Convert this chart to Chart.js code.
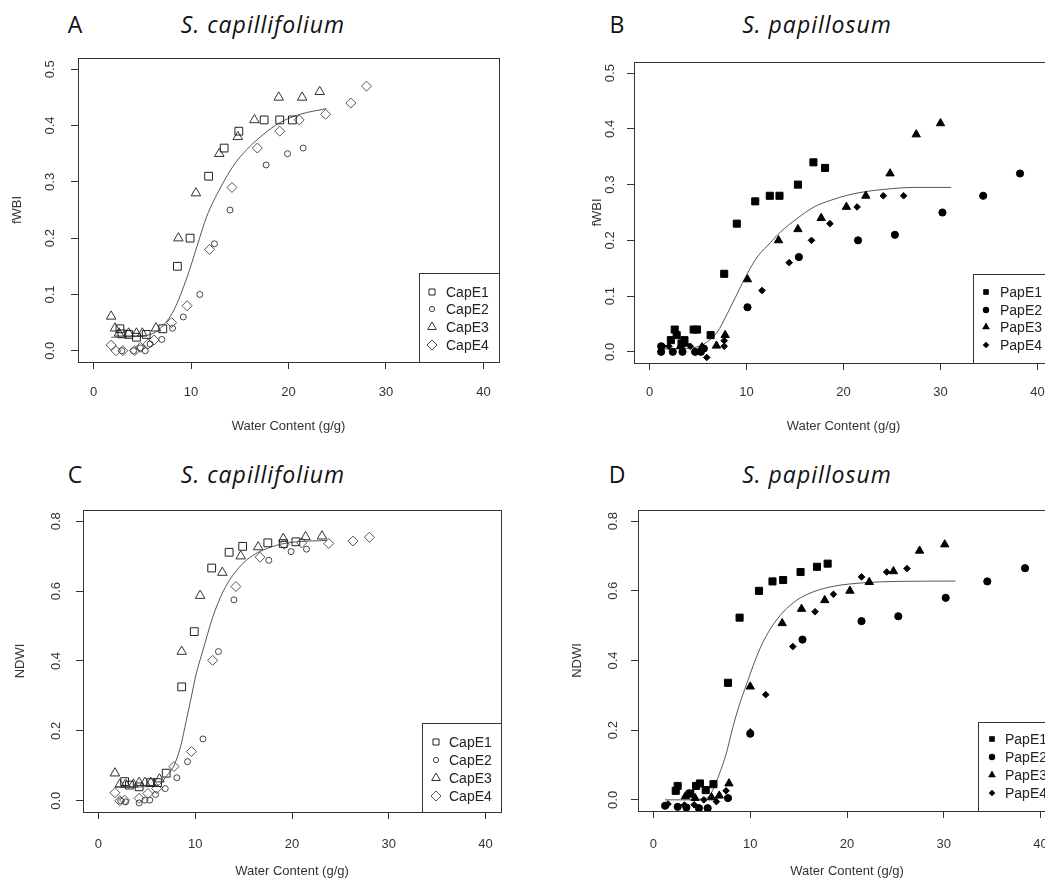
<!DOCTYPE html>
<html>
<head>
<meta charset="utf-8">
<script src="https://cdn.jsdelivr.net/npm/chart.js@4"></script>
<style>
  html, body { margin: 0; padding: 0; width: 1045px; height: 882px; overflow: hidden; background: #fff; }
  canvas { position: absolute; }
  .lab { position: absolute; font-family: "Open Sans", Lato, sans-serif; font-size: 23px; color: #111;
         line-height: 1; white-space: nowrap; transform: translate(-50%, -50%); }
  .sp { font-style: italic; letter-spacing: 1px; }
</style>
</head>
<body>
<div class="lab" style="left:75px;top:24px">A</div>
<div class="lab sp" style="left:263px;top:24px">S. capillifolium</div>
<div class="lab" style="left:617px;top:24px">B</div>
<div class="lab sp" style="left:817px;top:24px">S. papillosum</div>
<div class="lab" style="left:75px;top:474px">C</div>
<div class="lab sp" style="left:263px;top:474px">S. capillifolium</div>
<div class="lab" style="left:617px;top:474px">D</div>
<div class="lab sp" style="left:817px;top:474px">S. papillosum</div>

<canvas id="chartA"></canvas>
<canvas id="chartB"></canvas>
<canvas id="chartC"></canvas>
<canvas id="chartD"></canvas>

<script>
// tick labels
const xTicks = [0, 10, 20, 30, 40];
const fwbiTicks = [0, 0.1, 0.2, 0.3, 0.4, 0.5];
const ndwiTicks = [0, 0.2, 0.4, 0.6, 0.8];
const capNames = ["CapE1", "CapE2", "CapE3", "CapE4"];
const papNames = ["PapE1", "PapE2", "PapE3", "PapE4"];

// A: S. capillifolium, fWBI vs water content [x, y]
const capE1_fwbi = [[2.7,0.039],[2.9,0.03],[3.6,0.029],[4.4,0.024],[5.4,0.029],[7.1,0.039],[8.6,0.15],[9.9,0.20],[11.8,0.31],[13.4,0.36],[14.9,0.39],[17.5,0.41],[19.1,0.41],[20.4,0.41]];
const capE2_fwbi = [[2.9,0],[4.1,0],[4.8,0.005],[5.3,0],[5.8,0.012],[7.0,0.02],[8.1,0.04],[9.2,0.06],[10.9,0.10],[12.4,0.19],[14.0,0.25],[17.7,0.33],[19.9,0.35],[21.5,0.36]];
const capE3_fwbi = [[1.8,0.061],[2.2,0.04],[2.6,0.031],[3.6,0.031],[4.4,0.031],[5.0,0.031],[6.4,0.04],[8.7,0.20],[10.5,0.28],[12.9,0.35],[14.8,0.38],[16.5,0.41],[19.0,0.45],[21.4,0.45],[23.2,0.46]];
const capE4_fwbi = [[1.8,0.01],[2.3,0],[3.0,0],[4.2,0],[4.8,0.006],[5.6,0.012],[6.2,0.019],[8.0,0.05],[9.6,0.08],[11.9,0.18],[14.2,0.29],[16.8,0.36],[19.1,0.39],[21.1,0.41],[23.8,0.42],[26.4,0.44],[28.0,0.47]];
const capFit_fwbi = [[1.8,0.024],[4.0,0.025],[6.0,0.03],[6.8,0.039],[8.2,0.071],[9.6,0.131],[10.6,0.185],[11.6,0.238],[13.0,0.289],[14.4,0.33],[15.7,0.357],[17.4,0.384],[19.1,0.405],[21.2,0.42],[23.9,0.43]];

// B: S. papillosum, fWBI
const papE1_fwbi = [[2.2,0.021],[2.6,0.04],[2.8,0.03],[3.3,0.015],[3.6,0.021],[4.55,0.04],[4.9,0.04],[6.3,0.03],[7.7,0.14],[9.0,0.23],[10.9,0.27],[12.4,0.28],[13.4,0.28],[15.3,0.30],[16.9,0.34],[18.1,0.33]];
const papE2_fwbi = [[1.2,0.01],[1.2,0],[2.4,0],[3.4,0],[4.7,0],[5.3,0],[5.6,0.006],[10.1,0.08],[15.4,0.17],[21.5,0.20],[25.3,0.21],[30.2,0.25],[34.4,0.28],[38.2,0.32]];
const papE3_fwbi = [[3.2,0.01],[3.7,0.015],[5.4,0.008],[6.9,0.011],[7.8,0.03],[10.1,0.13],[13.3,0.20],[15.3,0.22],[17.7,0.24],[20.3,0.26],[22.3,0.28],[24.8,0.32],[27.5,0.39],[30.0,0.41]];
const papE4_fwbi = [[1.4,0.01],[2.0,0.01],[4.2,0.01],[5.5,0.008],[5.9,-0.01],[7.7,0.02],[7.7,0.01],[11.6,0.11],[14.4,0.16],[16.7,0.20],[18.6,0.23],[21.4,0.26],[24.1,0.28],[26.2,0.28]];
const papFit_fwbi = [[1.2,0.005],[3.5,0.006],[5.24,0.011],[6.97,0.035],[8.0,0.068],[9.03,0.104],[10.07,0.14],[11.1,0.17],[12.14,0.19],[13.5,0.215],[15.2,0.239],[16.97,0.26],[18.7,0.272],[20.4,0.281],[22.1,0.287],[23.9,0.291],[27.3,0.295],[31.1,0.295]];

// C: S. capillifolium, NDWI
const capE1_ndwi = [[2.7,0.055],[3.2,0.045],[4.2,0.04],[5.4,0.052],[6.1,0.052],[7.0,0.079],[8.6,0.326],[9.9,0.484],[11.7,0.666],[13.5,0.711],[14.9,0.728],[17.5,0.738],[19.1,0.736],[20.4,0.741]];
const capE2_ndwi = [[2.3,0],[2.8,-0.003],[4.2,-0.006],[4.8,0.002],[5.3,0.002],[5.9,0.018],[6.9,0.035],[8.1,0.066],[9.2,0.112],[10.8,0.177],[12.4,0.427],[14.0,0.575],[17.6,0.688],[19.9,0.713],[21.5,0.72]];
const capE3_ndwi = [[1.7,0.079],[2.2,0.047],[2.8,0.047],[3.6,0.047],[4.2,0.052],[4.8,0.052],[5.4,0.052],[6.3,0.062],[8.6,0.427],[10.5,0.587],[12.8,0.653],[14.7,0.70],[16.5,0.726],[19.1,0.75],[21.4,0.755],[23.1,0.757]];
const capE4_ndwi = [[1.7,0.023],[2.2,0],[2.7,0.002],[4.2,0.007],[5.1,0.021],[6.0,0.035],[7.8,0.098],[9.6,0.141],[11.8,0.402],[14.2,0.613],[16.7,0.697],[19.2,0.734],[21.0,0.738],[23.8,0.736],[26.3,0.743],[28.0,0.754]];
const capFit_ndwi = [[1.7,0.04],[4.0,0.04],[6.2,0.045],[7.0,0.07],[7.84,0.103],[8.53,0.16],[9.05,0.227],[9.57,0.294],[10.09,0.362],[10.78,0.429],[11.8,0.525],[12.85,0.597],[13.88,0.645],[15.27,0.688],[16.6,0.712],[18.4,0.731],[20.1,0.74],[23.6,0.745]];

// D: S. papillosum, NDWI
const papE1_ndwi = [[2.3,0.026],[2.5,0.04],[3.8,0.018],[4.4,0.04],[4.8,0.047],[5.4,0.028],[6.2,0.045],[7.7,0.336],[8.9,0.523],[10.9,0.60],[12.3,0.627],[13.4,0.631],[15.2,0.654],[16.9,0.669],[18.0,0.678]];
const papE2_ndwi = [[1.2,-0.017],[2.5,-0.02],[3.4,-0.022],[4.7,-0.024],[5.6,-0.024],[7.7,0.005],[10.0,0.19],[15.4,0.46],[21.5,0.513],[25.3,0.527],[30.2,0.58],[34.5,0.627],[38.4,0.665]];
const papE3_ndwi = [[3.3,0.01],[3.7,0.016],[4.3,0.005],[6.0,0.007],[6.8,0.012],[7.8,0.047],[10.0,0.325],[13.3,0.507],[15.3,0.548],[17.7,0.573],[20.3,0.60],[22.3,0.625],[24.8,0.656],[27.5,0.715],[30.1,0.733]];
const papE4_ndwi = [[1.5,-0.012],[3.2,-0.015],[4.2,-0.014],[5.2,0],[6.5,-0.005],[7.5,0.026],[10.0,0.195],[11.6,0.302],[14.4,0.44],[16.7,0.54],[18.6,0.59],[21.5,0.64],[24.1,0.654],[26.2,0.664]];
const papFit_ndwi = [[1.2,0.0],[3.5,0.0],[5.5,0.005],[6.1,0.026],[6.8,0.074],[7.5,0.131],[8.2,0.208],[8.9,0.275],[9.6,0.33],[10.3,0.385],[11.1,0.44],[12.2,0.496],[13.4,0.539],[14.8,0.573],[16.5,0.597],[18.6,0.613],[21.7,0.623],[25.1,0.627],[31.2,0.628]];

const TXT = '#333';
const FONT = '"Liberation Sans", Arial, sans-serif';
const toXY = arr => arr.map(([x, y]) => ({ x, y }));

// open symbols (R pch 0,1,2,5) and filled symbols (pch 15,16,17,18)
const openStyles = [
  { pointStyle: 'rect', pointRadius: 5.5, color: '#222', legendR: 4.3 },
  { pointStyle: 'circle', pointRadius: 3, color: '#444', legendR: 2.6 },
  { pointStyle: 'triangle', pointRadius: 5.5, color: '#333', legendR: 5 },
  { pointStyle: 'rectRot', pointRadius: 5, color: '#555', legendR: 5 }
];
const filledStyles = [
  { pointStyle: 'rect', pointRadius: 5, color: '#000', legendR: 4 },
  { pointStyle: 'circle', pointRadius: 3.6, color: '#000', legendR: 3.2 },
  { pointStyle: 'triangle', pointRadius: 4.8, color: '#000', legendR: 4.5 },
  { pointStyle: 'rectRot', pointRadius: 3.3, color: '#000', legendR: 3.3 }
];

function buildSets(names, series, styles, filled, fit) {
  const sets = series.map((s, i) => ({
    label: names[i],
    data: toXY(s),
    pointStyle: styles[i].pointStyle,
    pointRadius: styles[i].pointRadius,
    pointHoverRadius: styles[i].pointRadius,
    borderColor: styles[i].color,
    backgroundColor: filled ? styles[i].color : 'rgba(0,0,0,0)',
    borderWidth: 1,
    legendR: styles[i].legendR,
    filled: filled
  }));
  sets.push({
    label: 'fit',
    data: toXY(fit),
    showLine: true,
    pointRadius: 0,
    borderColor: '#555',
    borderWidth: 1,
    cubicInterpolationMode: 'monotone',
    isFit: true
  });
  return sets;
}

function drawSym(ctx, style, x, y, r, filled) {
  ctx.beginPath();
  if (style === 'rect') ctx.rect(x - r * 0.7, y - r * 0.7, r * 1.4, r * 1.4);
  else if (style === 'circle') ctx.arc(x, y, r, 0, Math.PI * 2);
  else if (style === 'triangle') {
    ctx.moveTo(x, y - r); ctx.lineTo(x + r * 0.866, y + r * 0.5); ctx.lineTo(x - r * 0.866, y + r * 0.5); ctx.closePath();
  } else {
    ctx.moveTo(x, y - r); ctx.lineTo(x + r, y); ctx.lineTo(x, y + r); ctx.lineTo(x - r, y); ctx.closePath();
  }
  if (filled) ctx.fill(); else ctx.stroke();
}

// box, rotated y tick labels and legend, R style
const rPanel = {
  id: 'rPanel',
  afterDraw(chart, args, o) {
    const { ctx, chartArea: a } = chart;
    ctx.save();
    ctx.strokeStyle = '#333';
    ctx.lineWidth = 1;
    ctx.strokeRect(Math.round(a.left) + 0.5, Math.round(a.top) + 0.5, Math.round(a.right - a.left), Math.round(a.bottom - a.top));

    const ys = chart.scales.y;
    ctx.fillStyle = TXT;
    ctx.font = '13px ' + FONT;
    ctx.textAlign = 'center';
    ctx.textBaseline = 'middle';
    ys.ticks.forEach(t => {
      ctx.save();
      ctx.translate(a.left - o.yLabelOffset, ys.getPixelForValue(t.value));
      ctx.rotate(-Math.PI / 2);
      ctx.fillText(t.value.toFixed(1), 0, 0);
      ctx.restore();
    });

    // legend
    const L = o.legend;
    const lx = L.left - o.origin.x, ly = L.top - o.origin.y;
    ctx.fillStyle = '#fff';
    ctx.fillRect(lx, ly, a.right - lx, a.bottom - ly);
    ctx.strokeStyle = '#333';
    ctx.strokeRect(Math.round(lx) + 0.5, Math.round(ly) + 0.5, Math.round(a.right - lx), Math.round(a.bottom - ly));
    ctx.font = '14px ' + FONT;
    ctx.textAlign = 'left';
    chart.data.datasets.filter(d => !d.isFit).forEach((d, i) => {
      const yy = L.rows[i] - o.origin.y;
      ctx.fillStyle = d.borderColor;
      ctx.strokeStyle = d.borderColor;
      drawSym(ctx, d.pointStyle, L.symX - o.origin.x, yy, d.legendR, d.filled);
      ctx.fillStyle = '#222';
      ctx.fillText(d.label, L.textX - o.origin.x, yy + 1);
    });
    ctx.restore();
  }
};

function panel(id, pos, box, datasets, yRange, yTicks, yTitle, opt) {
  const cv = document.getElementById(id);
  cv.style.left = pos.x + 'px';
  cv.style.top = pos.y + 'px';
  cv.width = pos.w;
  cv.height = pos.h;
  const tickFont = { family: FONT, size: 13 };
  return new Chart(cv, {
    type: 'scatter',
    data: { datasets },
    options: {
      responsive: false,
      animation: false,
      events: [],
      layout: { padding: { top: box.top - pos.y, right: pos.x + pos.w - box.right, left: 0, bottom: 0 } },
      plugins: {
        legend: { display: false },
        tooltip: { enabled: false },
        rPanel: { origin: pos, yLabelOffset: opt.yLabelOffset, legend: opt.legend }
      },
      scales: {
        x: {
          type: 'linear', min: -1.6, max: 41.6,
          afterFit: s => { s.height = pos.y + pos.h - box.bottom; },
          afterBuildTicks: s => { s.ticks = xTicks.map(v => ({ value: v })); },
          grid: { drawOnChartArea: false, drawTicks: true, tickLength: 7, color: '#333' },
          border: { display: false },
          ticks: { color: TXT, font: tickFont, padding: opt.xPad, maxRotation: 0, autoSkip: false },
          title: { display: true, text: 'Water Content (g/g)', color: TXT, font: tickFont, padding: { top: 0, bottom: opt.xTitlePad } }
        },
        y: {
          type: 'linear', min: yRange[0], max: yRange[1],
          afterFit: s => { s.width = box.left - pos.x; },
          afterBuildTicks: s => { s.ticks = yTicks.map(v => ({ value: v })); },
          grid: { drawOnChartArea: false, drawTicks: true, tickLength: 7, color: '#333' },
          border: { display: false },
          ticks: { display: false },
          title: { display: true, text: yTitle, color: TXT, font: tickFont, padding: { top: opt.yTitlePad, bottom: 0 } }
        }
      }
    },
    plugins: [rPanel]
  });
}

panel('chartA', { x: 0, y: 40, w: 540, h: 410 }, { left: 78, top: 58, right: 499, bottom: 362 },
  buildSets(capNames, [capE1_fwbi, capE2_fwbi, capE3_fwbi, capE4_fwbi], openStyles, false, capFit_fwbi),
  [-0.02, 0.52], fwbiTicks, 'fWBI',
  { yLabelOffset: 28, xPad: 16, xTitlePad: 16, yTitlePad: 10,
    legend: { left: 419, top: 273, symX: 432, textX: 446, rows: [292, 309, 327, 345] } });

panel('chartB', { x: 560, y: 40, w: 520, h: 410 }, { left: 634, top: 62, right: 1053, bottom: 363 },
  buildSets(papNames, [papE1_fwbi, papE2_fwbi, papE3_fwbi, papE4_fwbi], filledStyles, true, papFit_fwbi),
  [-0.02, 0.52], fwbiTicks, 'fWBI',
  { yLabelOffset: 24, xPad: 15, xTitlePad: 16, yTitlePad: 30,
    legend: { left: 973, top: 274, symX: 986, textX: 1000, rows: [292, 310, 327, 345] } });

panel('chartC', { x: 0, y: 490, w: 540, h: 392 }, { left: 83, top: 510, right: 501, bottom: 812 },
  buildSets(capNames, [capE1_ndwi, capE2_ndwi, capE3_ndwi, capE4_ndwi], openStyles, false, capFit_ndwi),
  [-0.032, 0.832], ndwiTicks, 'NDWI',
  { yLabelOffset: 27, xPad: 18, xTitlePad: 3, yTitlePad: 13,
    legend: { left: 422, top: 723, symX: 436, textX: 449, rows: [742, 760, 778, 796] } });

panel('chartD', { x: 560, y: 490, w: 520, h: 392 }, { left: 638, top: 510, right: 1056, bottom: 811 },
  buildSets(papNames, [papE1_ndwi, papE2_ndwi, papE3_ndwi, papE4_ndwi], filledStyles, true, papFit_ndwi),
  [-0.032, 0.832], ndwiTicks, 'NDWI',
  { yLabelOffset: 25, xPad: 19, xTitlePad: 3, yTitlePad: 10,
    legend: { left: 978, top: 722, symX: 992, textX: 1005, rows: [739, 757, 775, 793] } });
</script>
</body>
</html>
